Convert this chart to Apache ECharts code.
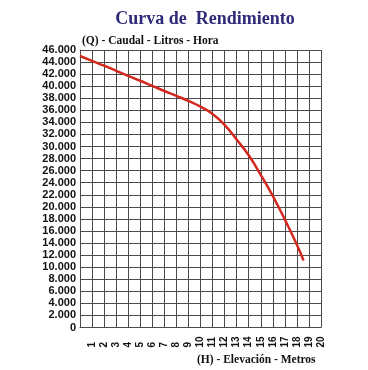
<!DOCTYPE html>
<html>
<head>
<meta charset="utf-8">
<script src="https://cdn.jsdelivr.net/npm/echarts@6/dist/echarts.min.js"></script>
<style>html,body{margin:0;padding:0;background:#fff;}#c{width:368px;height:370px;}</style>
</head>
<body>
<div id="c"></div>
<script>
const titleText = 'Curva de  Rendimiento';
const yName = '(Q) - Caudal - Litros - Hora';
const xName = '(H) - Elevación - Metros';
const elevacion = [0, 1, 2, 3, 4, 5, 6, 7, 8, 9, 10, 11, 12, 13, 14, 15, 16, 17, 18, 18.55];
const caudal = [45000, 44200, 43400, 42550, 41700, 40900, 40050, 39200, 38400, 37550, 36600, 35400, 33600, 31150, 28550, 25300, 21800, 17900, 13700, 11100];

const chart = echarts.init(document.getElementById('c'), null, {renderer: 'canvas'});
const gridColor = '#4a4a4a';
chart.setOption({
  animation: false,
  backgroundColor: '#fff',
  title: {
    text: titleText, left: 200, top: 5, textAlign: 'center',
    textStyle: {fontFamily: 'Liberation Serif', fontWeight: 'bold', fontSize: 18, color: '#2e2a78'}
  },
  graphic: [
    {type: 'text', left: 82, top: 35, style: {text: yName, font: 'bold 11.5px "Liberation Serif"', fill: '#111'}},
    {type: 'text', left: 197, top: 354, style: {text: xName, font: 'bold 11.5px "Liberation Serif"', fill: '#111'}}
  ],
  grid: {left: 80, right: 47, top: 50, bottom: 42.5},
  xAxis: {
    type: 'value', min: 0, max: 20, interval: 1,
    axisLine: {show: true, lineStyle: {color: gridColor, width: 1}},
    axisTick: {show: false},
    splitLine: {show: true, lineStyle: {color: gridColor, width: 1}},
    axisLabel: {
      rotate: 90, align: 'left', margin: 20, color: '#111',
      fontFamily: 'Liberation Sans', fontWeight: 'bold', fontSize: 10,
      formatter: v => v === 0 ? '' : String(v)
    }
  },
  yAxis: {
    type: 'value', min: 0, max: 46000, interval: 2000,
    axisLine: {show: true, lineStyle: {color: gridColor, width: 1}},
    axisTick: {show: false},
    splitLine: {show: true, lineStyle: {color: gridColor, width: 1}},
    axisLabel: {
      margin: 4, color: '#111',
      fontFamily: 'Liberation Sans', fontWeight: 'bold', fontSize: 11,
      formatter: v => v === 0 ? '0' : (Math.floor(v / 1000) + '.' + String(v % 1000).padStart(3, '0'))
    }
  },
  series: [{
    type: 'line', smooth: 0.5, symbol: 'none',
    lineStyle: {color: '#d2281e', width: 2.5},
    data: elevacion.map((h, i) => [h, caudal[i]])
  }]
});
</script>
</body>
</html>
